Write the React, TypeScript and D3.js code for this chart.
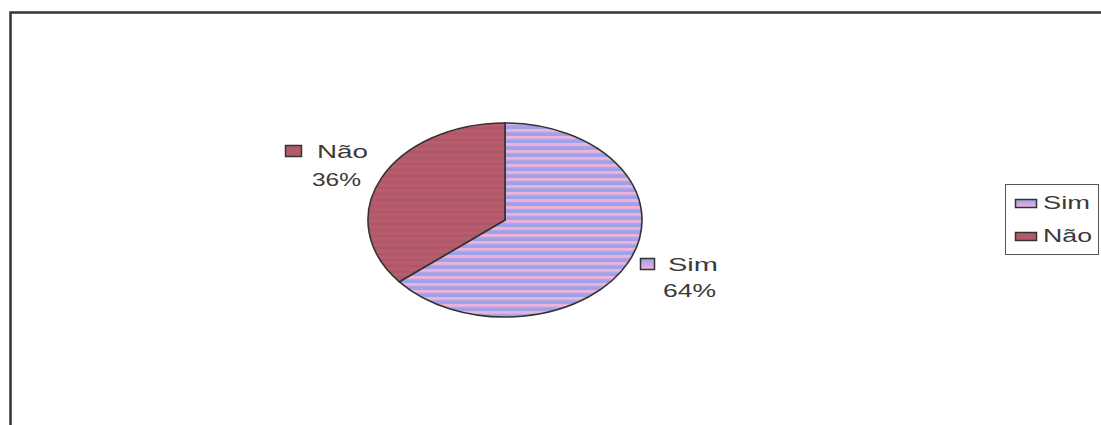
import React from "react";
import * as d3 from "d3";

const categories = ["Sim", "Não"];
const values = [64, 36];
const percentLabels = ["64%", "36%"];

const W = 1101;
const H = 425;

export default function App() {
  const cx = 505, cy = 220, rx = 137, ry = 97;
  const pie = d3.pie<number>().sort(null).value((d) => d)(values);
  const arc = d3.arc<d3.PieArcDatum<number>>().innerRadius(0).outerRadius(1);
  const fills = ["url(#simPat)", "url(#naoPat)"];
  const swatch = ["url(#simSw)", "#b45a6a"];
  const inv = `scale(${1 / rx},${1 / ry})`;
  return (
    <div style={{ position: "fixed", left: 0, top: 0, width: W, height: H, overflow: "hidden" }}>
      <svg width={W} height={H} style={{ display: "block", background: "#fff" }}
        fontFamily="'Liberation Sans', Arial, sans-serif">
        <defs>
          <pattern id="simPat" patternUnits="userSpaceOnUse" width={8} height={7} patternTransform={inv}>
            <rect width={8} height={7} fill="#eeb2da" />
            <rect y={3} width={8} height={4} fill="#9ea2e8" />
          </pattern>
          <pattern id="naoPat" patternUnits="userSpaceOnUse" width={8} height={6} patternTransform={inv}>
            <rect width={8} height={6} fill="#b95c6c" />
            <rect y={3} width={8} height={2} fill="#ac5668" />
          </pattern>
          <linearGradient id="simSw" x1="0" y1="0" x2="0" y2="1">
            <stop offset="0" stopColor="#9ca2ea" />
            <stop offset="1" stopColor="#eeb4dc" />
          </linearGradient>
        </defs>
        <rect x={10.5} y={12.5} width={W + 10} height={H + 10} fill="none" stroke="#333" strokeWidth={2.5} />
        <g>
          {pie.map((p, i) => (
            <path key={i} d={arc(p) || ""} transform={`translate(${cx},${cy}) scale(${rx},${ry})`}
              fill={fills[i]} stroke="#333" strokeWidth={1.6} vectorEffect="non-scaling-stroke" />
          ))}
        </g>
        {/* data labels */}
        <g fontSize={19} fill="#3a3a3a">
          <rect x={285.5} y={145.5} width={16} height={11} fill={swatch[1]} stroke="#333" strokeWidth={1.5} />
          <text x={317} y={158} textLength={51} lengthAdjust="spacingAndGlyphs">{categories[1]}</text>
          <text x={312} y={186} textLength={49} lengthAdjust="spacingAndGlyphs">{percentLabels[1]}</text>
          <rect x={640.5} y={258.5} width={14} height={11} fill={swatch[0]} stroke="#333" strokeWidth={1.5} />
          <text x={668} y={271} textLength={50} lengthAdjust="spacingAndGlyphs">{categories[0]}</text>
          <text x={663} y={297} textLength={53} lengthAdjust="spacingAndGlyphs">{percentLabels[0]}</text>
        </g>
        {/* legend */}
        <g fontSize={18} fill="#3a3a3a">
          <rect x={1005.5} y={184.5} width={93} height={70} fill="#fff" stroke="#555" strokeWidth={1} />
          {categories.map((c, i) => (
            <g key={c} transform={`translate(1015,${199 + i * 33})`}>
              <rect x={0.5} y={0.5} width={21} height={8} fill={swatch[i]} stroke="#333" strokeWidth={1.5} />
              <text x={28} y={10} textLength={i === 0 ? 47 : 49} lengthAdjust="spacingAndGlyphs">{c}</text>
            </g>
          ))}
        </g>
      </svg>
    </div>
  );
}
